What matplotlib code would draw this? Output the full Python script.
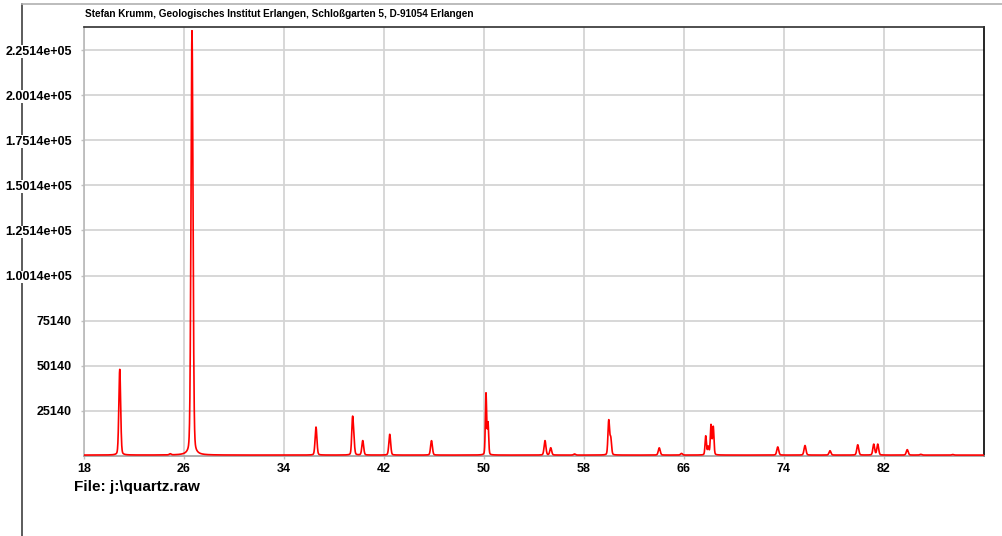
import numpy as np
import matplotlib
matplotlib.use("Agg")
import matplotlib.pyplot as plt
from matplotlib.lines import Line2D

# Peaks: position (2theta), height (counts), FWHM (deg)
peak_pos = [20.86, 24.90, 26.64, 36.56, 39.48, 39.58, 40.30, 42.46, 45.80,
            50.16, 50.32, 54.88, 55.34, 57.24, 59.98, 60.14, 64.02, 65.80,
            67.74, 67.94, 68.16, 68.34, 73.50, 75.68, 77.68, 79.90, 81.18,
            81.50, 83.86, 84.94, 87.50]
peak_height = [47500, 600, 235200, 15500, 19000, 7500, 8000, 11500, 8000,
               34000, 17500, 8000, 4000, 600, 19000, 9000, 4000, 900,
               10500, 4500, 16500, 15500, 4500, 5300, 2400, 5700, 6000,
               6000, 3000, 400, 300]
peak_fwhm = [0.17, 0.18, 0.19, 0.17, 0.15, 0.15, 0.17, 0.17, 0.17,
             0.12, 0.12, 0.17, 0.17, 0.18, 0.15, 0.15, 0.18, 0.18,
             0.13, 0.13, 0.13, 0.13, 0.18, 0.18, 0.18, 0.18, 0.17,
             0.17, 0.18, 0.18, 0.18]
background = 650

x_ticks = [18, 26, 34, 42, 50, 58, 66, 74, 82]
y_ticks = [25140, 50140, 75140, 100140, 125140, 150140, 175140, 200140, 225140]
y_labels = ['25140', '50140', '75140', '1.0014e+05', '1.2514e+05',
            '1.5014e+05', '1.7514e+05', '2.0014e+05', '2.2514e+05']

# scan profile (pseudo-Voigt peaks on a flat background)
tt = np.arange(18.0, 90.0001, 0.01)
counts = np.full_like(tt, background, dtype=float)
for p, h, w in zip(peak_pos, peak_height, peak_fwhm):
    d = (tt - p) / (w / 2)
    lor = 1 / (1 + d ** 2)
    gau = np.exp(-np.log(2) * d ** 2)
    counts += h * (0.2 * lor + 0.8 * gau)

plt.rcParams['font.family'] = ['Liberation Sans', 'DejaVu Sans']

W, H = 1003, 536
fig = plt.figure(figsize=(W / 100, H / 100), dpi=100)

# page frame lines (drawn first so the tick labels sit on top)
fig.add_artist(Line2D([22 / W, 22 / W], [0, 1 - 4 / H], color='#404040', lw=1.2, zorder=0))
fig.add_artist(Line2D([22 / W, 1], [1 - 4 / H, 1 - 4 / H], color='#b0b0b0', lw=1.2, zorder=0))

ax = fig.add_axes([84 / W, 1 - 456 / H, 900 / W, 429 / H])
ax.set_zorder(2)

ax.plot(tt, counts, color='#ff0000', lw=1.2, zorder=3)

ax.set_xlim(18, 90)
ax.set_ylim(140, 237900)
ax.set_xticks(x_ticks)
ax.set_xticklabels([str(v) for v in x_ticks])
ax.set_yticks(y_ticks)
ax.set_yticklabels(y_labels)
ax.grid(True, color='#d4d4d4', lw=1.3, zorder=0)
ax.set_axisbelow(True)
ax.tick_params(axis='both', length=2.2, width=1, color='#c0c0c0',
               labelsize=9)
ax.tick_params(axis='x', pad=3)
ax.tick_params(axis='y', pad=6.5)
for lab in ax.get_xticklabels() + ax.get_yticklabels():
    lab.set_fontweight('bold')
for lab in ax.get_yticklabels():
    lab.set_bbox(dict(facecolor='white', edgecolor='none', pad=0.3))

ax.spines['top'].set_color('#303030')
ax.spines['right'].set_color('#000000')
ax.spines['left'].set_color('#b8b8b8')
ax.spines['bottom'].set_color('#a0a0a0')
for s in ax.spines.values():
    s.set_linewidth(1.2)

fig.text(85 / W, 1 - 14 / H,
         'Stefan Krumm, Geologisches Institut Erlangen, Schloßgarten 5, D-91054 Erlangen',
         fontsize=7.2, fontweight='bold', va='center', ha='left')
fig.text(74 / W, 1 - 487 / H, 'File: j:\\quartz.raw',
         fontsize=11, fontweight='bold', va='center', ha='left')

fig.savefig('out.png', dpi=100)
